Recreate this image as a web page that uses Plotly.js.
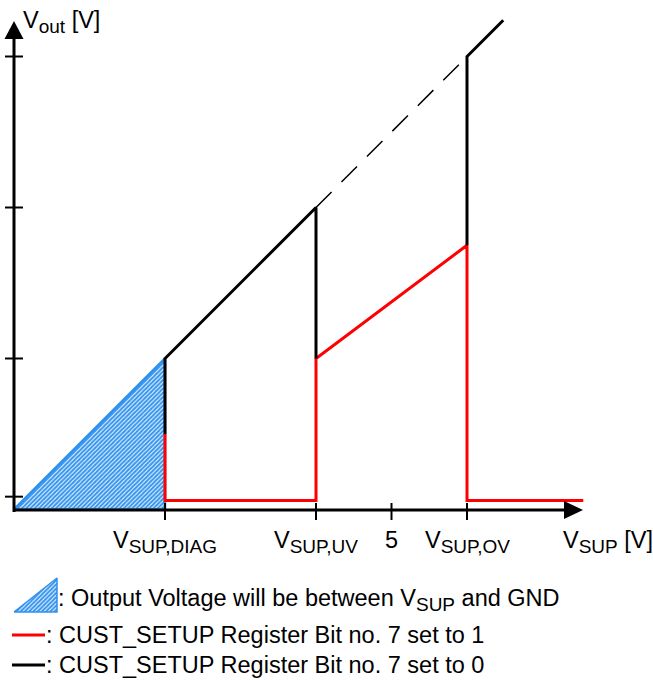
<!DOCTYPE html>
<html>
<head>
<meta charset="utf-8">
<script src="https://cdn.plot.ly/plotly-3.0.1.min.js"></script>
<style>html,body{margin:0;padding:0;background:#fff;}#chart{width:653px;height:680px;}</style>
</head>
<body>
<div id="chart"></div>
<script>
// ---- data (volts) ----
const diagX = [0, 2, 2, 0];            // shaded region: Vout between VSUP and GND
const diagY = [0, 2, 0, 0];
const bit1X = [2, 2, 4, 4, 6, 6, 7.54]; // CUST_SETUP bit7 = 1 (red)
const bit1Y = [1.0, 0.12, 0.12, 2, 3.5, 0.12, 0.12];
const bit0X = [2, 2, 4, 4, null, 6, 6, 6.48]; // CUST_SETUP bit7 = 0 (black)
const bit0Y = [1.0, 2, 4, 2, null, 3.5, 6, 6.48];
const idealX = [4, 6];                 // dashed continuation Vout = VSUP
const idealY = [4, 6];
const xTickVals = [2, 4, 5, 6];
const xTickMain = ['V', 'V', '5', 'V'];
const xTickSub = ['SUP,DIAG', 'SUP,UV', '', 'SUP,OV'];
const yTickVals = [0.17, 2, 4, 6];
const legendText = [
  [': Output Voltage will be between V', 'SUP', ' and GND'],
  [': CUST_SETUP Register Bit no. 7 set to 1', '', ''],
  [': CUST_SETUP Register Bit no. 7 set to 0', '', '']
];

// ---- geometry helpers (page pixels -> data units) ----
const W = 653, H = 680, S = 75.5, X0 = 14, Y0 = 509.5;
const dx = p => (p - X0) / S;
const dy = p => (Y0 - p) / S;

const FONT = 'Liberation Sans, Arial, Helvetica, sans-serif';
const FS = 23.5, SUBFS = 19;
const sub = s => s ? `<sub><span style="font-size:${SUBFS}px">${s}</span></sub>` : '';
const PAT = {shape: '/', fgcolor: '#3796ee', bgcolor: '#ffffff', size: 3, solidity: 0.7};

const traces = [
  {x: diagX, y: diagY, mode: 'lines', fill: 'toself', line: {color: '#2f8ff0', width: 2.5},
   fillcolor: '#9cc8f4', fillpattern: PAT, hoverinfo: 'skip'},
  {x: idealX, y: idealY, mode: 'lines', line: {color: '#000', width: 1.5, dash: '22px,14px'}, hoverinfo: 'skip'},
  {x: bit1X, y: bit1Y, mode: 'lines', line: {color: '#ff0000', width: 3}, hoverinfo: 'skip'},
  {x: bit0X, y: bit0Y, mode: 'lines', line: {color: '#000', width: 3}, connectgaps: false, hoverinfo: 'skip'},
  // legend icon: shaded triangle
  {x: [dx(14), dx(57), dx(57), dx(14)], y: [dy(612), dy(578), dy(612), dy(612)], mode: 'lines', fill: 'toself',
   line: {color: '#2f8ff0', width: 1.5}, fillcolor: '#9cc8f4', fillpattern: PAT, hoverinfo: 'skip'},
  {x: [dx(12), dx(45)], y: [dy(635), dy(635)], mode: 'lines', line: {color: '#ff0000', width: 3}, hoverinfo: 'skip'},
  {x: [dx(12), dx(45)], y: [dy(665), dy(665)], mode: 'lines', line: {color: '#000', width: 3}, hoverinfo: 'skip'}
];

const shapes = [];
// axes
shapes.push({type: 'line', xref: 'x', yref: 'y', x0: 0, x1: 0, y0: dy(512), y1: dy(38), line: {color: '#000', width: 3}});
shapes.push({type: 'line', xref: 'x', yref: 'y', x0: 0, x1: dx(566), y0: dy(510), y1: dy(510), line: {color: '#000', width: 3}});
shapes.push({type: 'path', xref: 'x', yref: 'y', fillcolor: '#000', line: {width: 0},
  path: `M ${dx(4.5)},${dy(39)} L ${dx(14)},${dy(21)} L ${dx(23.5)},${dy(39)} Z`});
shapes.push({type: 'path', xref: 'x', yref: 'y', fillcolor: '#000', line: {width: 0},
  path: `M ${dx(564)},${dy(501)} L ${dx(583)},${dy(510)} L ${dx(564)},${dy(519)} Z`});
// tick marks
xTickVals.forEach(v => shapes.push({type: 'line', xref: 'x', yref: 'y', x0: v, x1: v, y0: dy(503), y1: dy(520), line: {color: '#000', width: 2}}));
yTickVals.forEach(v => shapes.push({type: 'line', xref: 'x', yref: 'y', x0: dx(5), x1: dx(23), y0: v, y1: v, line: {color: '#000', width: 2}}));

const annotations = [];
xTickVals.forEach((v, i) => annotations.push({x: v, y: dy(525), xref: 'x', yref: 'y',
  text: xTickMain[i] + sub(xTickSub[i]),
  showarrow: false, xanchor: 'center', yanchor: 'top', font: {family: FONT, size: FS, color: '#000'}}));
annotations.push({x: dx(561), y: dy(525), xref: 'x', yref: 'y', text: 'V' + sub('SUP') + ' [V]', showarrow: false,
  xanchor: 'left', yanchor: 'top', font: {family: FONT, size: FS, color: '#000'}});
annotations.push({x: dx(21), y: dy(5), xref: 'x', yref: 'y', text: 'V' + sub('out') + ' [V]', showarrow: false,
  xanchor: 'left', yanchor: 'top', font: {family: FONT, size: FS, color: '#000'}});
const legendYs = [600, 635, 665];
const legendXs = [56, 44, 44];
legendText.forEach((t, i) => annotations.push({x: dx(legendXs[i]), y: dy(legendYs[i]), xref: 'x', yref: 'y',
  text: t[0] + sub(t[1]) + t[2],
  showarrow: false, xanchor: 'left', yanchor: 'middle', font: {family: FONT, size: FS, color: '#000'}}));

const layout = {
  width: W, height: H, margin: {l: 0, r: 0, t: 0, b: 0}, showlegend: false,
  paper_bgcolor: '#fff', plot_bgcolor: '#fff',
  xaxis: {range: [dx(0), dx(W)], visible: false, fixedrange: true},
  yaxis: {range: [dy(H), dy(0)], visible: false, fixedrange: true},
  shapes: shapes, annotations: annotations
};
Plotly.newPlot('chart', traces, layout, {staticPlot: true, displayModeBar: false});
</script>
</body>
</html>
